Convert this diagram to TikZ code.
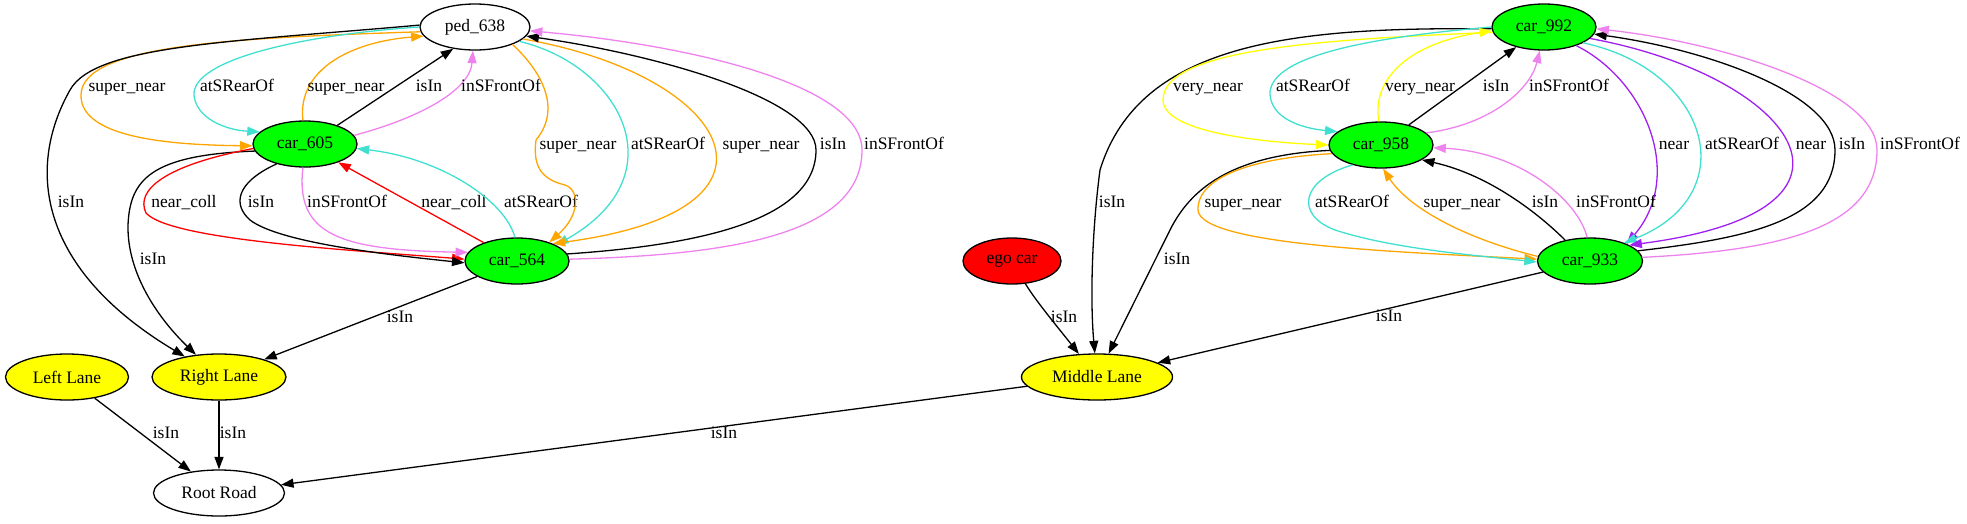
\documentclass[tikz,border=0pt]{standalone}
\usepackage{fontspec}
\setmainfont{Liberation Serif}
\usepackage{tikz}
\usetikzlibrary{arrows.meta,shapes.geometric}
\definecolor{gvgreen}{RGB}{0,255,0}
\definecolor{gvyellow}{RGB}{255,255,0}
\definecolor{gvorange}{RGB}{255,165,0}
\definecolor{gvturq}{RGB}{64,224,208}
\definecolor{gvviolet}{RGB}{238,130,238}
\definecolor{gvpurple}{RGB}{160,32,240}
\newcommand{\gvfont}{\fontsize{17.5}{21}\selectfont}
\tikzstyle{obj}=[draw,ellipse,line width=1.3pt,minimum height=46pt,inner sep=0pt,font=\gvfont]
\tikzstyle{car}=[obj,fill=gvgreen]
\tikzstyle{lane}=[obj,fill=gvyellow]
\tikzstyle{rel}=[-{Triangle[length=12.5pt,width=9pt]},line width=1.3pt]
\tikzstyle{lbl}=[font=\gvfont,text=black,inner sep=0pt,text height=12pt,text depth=4pt]

\begin{document}
\begin{tikzpicture}[x=1pt,y=-1pt]
\useasboundingbox (0,0) rectangle (1967,523);
\node [obj,minimum width=110pt] (ped) at (475,27) {ped\_638};
\node [car,minimum width=104pt] (c605) at (305,144) {car\_605};
\node [car,minimum width=104pt] (c564) at (517,261) {car\_564};
\node [lane,minimum width=123pt] (leftlane) at (67,377) {Left Lane};
\node [lane,minimum width=134pt] (rightlane) at (219,377) {Right Lane};
\node [obj,minimum width=131pt] (root) at (219,493) {Root Road};
\node [obj,fill=red,minimum width=98pt] (ego) at (1012,261) {ego car};
\node [lane,minimum width=151pt] (midlane) at (1097,377) {Middle Lane};
\node [car,minimum width=104pt] (c992) at (1544,27) {car\_992};
\node [car,minimum width=104pt] (c958) at (1381,145) {car\_958};
\node [car,minimum width=105pt] (c933) at (1590,261) {car\_933};

% ped_638 / car_605 / car_564
\draw [rel,gvorange] (c605.95) .. controls (297,70) and (350,42) .. (ped.190) node[lbl] at (346,87) {super\_near};
\draw [rel] (c605.30) -- (ped.225) node[lbl] at (429,87) {isIn};
\draw [rel,gvviolet] (c605.10) .. controls (420,118) and (470,90) .. (ped.-95) node[lbl] at (501,87) {inSFrontOf};
\draw [rel,gvorange] (ped.185) .. controls (230,38) and (82,45) .. (81,95) .. controls (80,140) and (180,145) .. (c605.182) node[lbl] at (127,87) {super\_near};
\draw [rel,gvturq] (ped.180) .. controls (300,35) and (192,60) .. (194,95) .. controls (196,118) and (225,130) .. (c605.165) node[lbl] at (237,87) {atSRearOf};
\draw [rel] (ped.178) .. controls (230,42) and (95,45) .. (70,90) .. controls (25,170) and (40,270) .. (rightlane) node[lbl] at (71,203) {isIn};
\draw [rel] (c605.188) .. controls (150,155) and (130,180) .. (128,225) .. controls (127,275) and (160,320) .. (rightlane) node[lbl] at (153,260) {isIn};
\draw [rel,red] (c605.185) .. controls (165,165) and (135,190) .. (146,213) .. controls (170,240) and (350,250) .. (c564.178) node[lbl] at (184,203) {near\_coll};
\draw [rel] (c605.215) .. controls (235,183) and (233,205) .. (250,220) .. controls (280,243) and (390,255) .. (c564.182) node[lbl] at (261,203) {isIn};
\draw [rel,gvviolet] (c605.-95) .. controls (295,235) and (340,250) .. (c564.170) node[lbl] at (347,203) {inSFrontOf};
\draw [rel,red] (c564) -- (c605) node[lbl] at (454,203) {near\_coll};
\draw [rel,gvturq] (c564.95) .. controls (505,200) and (440,158) .. (c605.-5) node[lbl] at (541,203) {atSRearOf};
\draw [rel,gvorange] (ped.-25) .. controls (535,65) and (565,105) .. (536,140) .. controls (532,170) and (545,180) .. (565,185) .. controls (580,190) and (580,215) .. (c564.30) node[lbl] at (578,145) {super\_near};
\draw [rel,gvturq] (ped.-18) .. controls (620,65) and (680,175) .. (c564.22) node[lbl] at (668,145) {atSRearOf};
\draw [rel,gvorange] (ped.-14) .. controls (730,75) and (810,210) .. (c564.26) node[lbl] at (761,145) {super\_near};
\draw [rel] (c564.8) .. controls (700,245) and (816,220) .. (816,150) .. controls (816,100) and (660,55) .. (ped.-10) node[lbl] at (833,145) {isIn};
\draw [rel,gvviolet] (c564.2) .. controls (730,255) and (862,235) .. (862,150) .. controls (862,85) and (690,45) .. (ped.-4) node[lbl] at (904,145) {inSFrontOf};
\draw [rel] (c564) -- (rightlane) node[lbl] at (400,318) {isIn};

% lanes and road
\draw [rel] (leftlane) -- (root) node[lbl] at (166,434) {isIn};
\draw [rel] (rightlane) -- (root) node[lbl] at (233,434) {isIn};
\draw [rel] (midlane) -- (root) node[lbl] at (724,434) {isIn};
\draw [rel] (ego) .. controls (1035,300) and (1060,330) .. (midlane) node[lbl] at (1064,318) {isIn};
\draw [rel] (c992.182) .. controls (1300,27) and (1140,40) .. (1100,170) .. controls (1092,230) and (1090,300) .. (midlane) node[lbl] at (1112,203) {isIn};
\draw [rel] (c958.186) .. controls (1230,155) and (1190,190) .. (1170,230) -- (midlane) node[lbl] at (1177,260) {isIn};
\draw [rel] (c933) -- (midlane) node[lbl] at (1389,317) {isIn};

% car_992 / car_958 / car_933
\draw [rel,gvyellow] (c992.186) .. controls (1300,40) and (1163,52) .. (1163,100) .. controls (1163,135) and (1280,143) .. (c958.180) node[lbl] at (1208,87) {very\_near};
\draw [rel,gvturq] (c992.180) .. controls (1360,38) and (1268,58) .. (1270,95) .. controls (1272,118) and (1300,128) .. (c958.163) node[lbl] at (1313,87) {atSRearOf};
\draw [rel,gvyellow] (c958.95) .. controls (1372,85) and (1400,45) .. (c992.184) node[lbl] at (1420,87) {very\_near};
\draw [rel] (c958) -- (c992) node[lbl] at (1496,87) {isIn};
\draw [rel,gvviolet] (c958.15) .. controls (1490,125) and (1530,90) .. (c992.-100) node[lbl] at (1569,87) {inSFrontOf};
\draw [rel,gvpurple] (c992.-30) .. controls (1645,80) and (1685,175) .. (c933.25) node[lbl] at (1674,145) {near};
\draw [rel,gvturq] (c992.-22) .. controls (1710,70) and (1745,195) .. (c933.28) node[lbl] at (1742,145) {atSRearOf};
\draw [rel,gvpurple] (c992.-14) .. controls (1790,75) and (1900,210) .. (c933.22) node[lbl] at (1811,145) {near};
\draw [rel] (c933.12) .. controls (1750,238) and (1835,220) .. (1835,150) .. controls (1835,95) and (1710,50) .. (c992.-8) node[lbl] at (1852,145) {isIn};
\draw [rel,gvviolet] (c933.4) .. controls (1790,250) and (1877,225) .. (1877,150) .. controls (1877,90) and (1720,42) .. (c992.-2) node[lbl] at (1920,145) {inSFrontOf};
\draw [rel,gvorange] (c958.190) .. controls (1250,158) and (1197,178) .. (1198,210) .. controls (1200,245) and (1400,252) .. (c933.178) node[lbl] at (1243,203) {super\_near};
\draw [rel,gvturq] (c958.215) .. controls (1300,180) and (1295,215) .. (1335,230) .. controls (1390,248) and (1470,255) .. (c933.181) node[lbl] at (1352,203) {atSRearOf};
\draw [rel,gvorange] (c933.175) .. controls (1470,240) and (1410,210) .. (c958.-85) node[lbl] at (1462,203) {super\_near};
\draw [rel] (c933.140) .. controls (1540,215) and (1490,175) .. (c958.-20) node[lbl] at (1545,203) {isIn};
\draw [rel,gvviolet] (c933.97) .. controls (1578,200) and (1520,152) .. (c958.-3) node[lbl] at (1616,203) {inSFrontOf};
\end{tikzpicture}
\end{document}
